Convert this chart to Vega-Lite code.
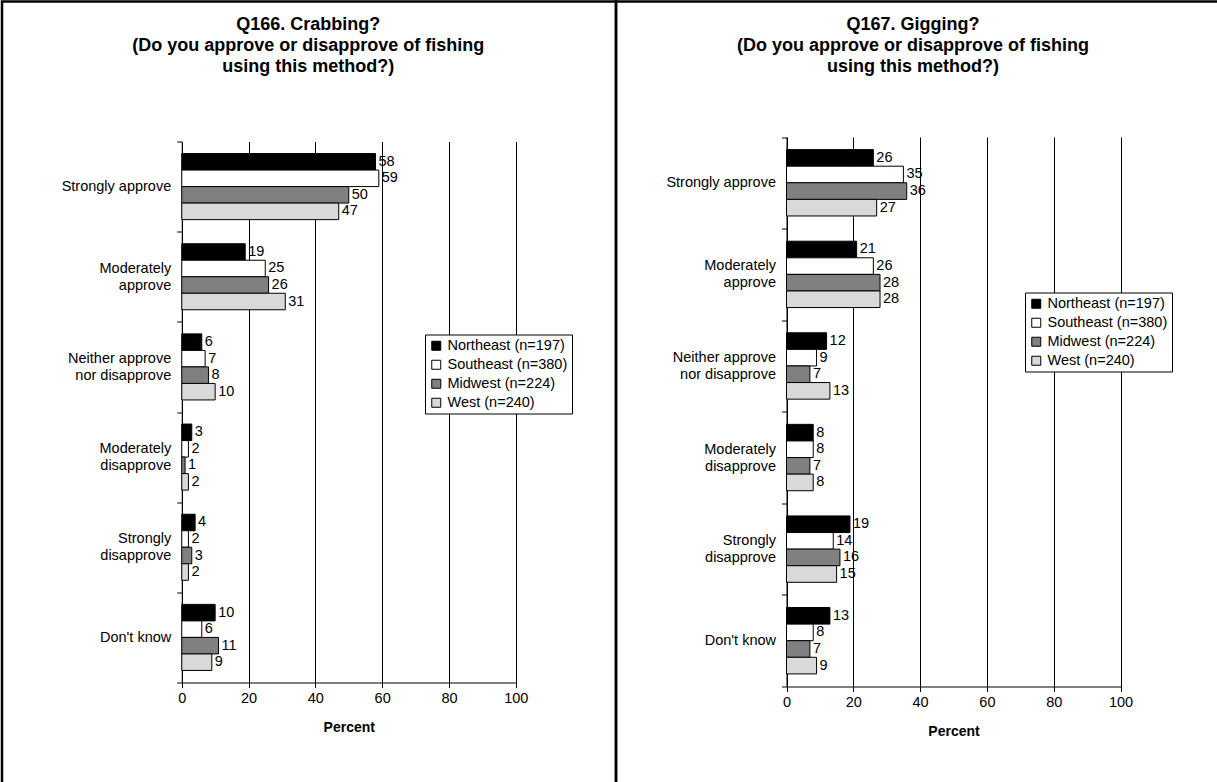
{
  "$schema": "https://vega.github.io/schema/vega-lite/v6.json",
  "padding": {"left": 0, "top": -8.5, "right": 0, "bottom": 0},
  "background": "white",
  "spacing": 0,
  "bounds": "flush",
  "datasets": {
    "survey": [
      {"q": "Q166", "response": "Strongly approve", "region": "Northeast (n=197)", "value": 58},
      {"q": "Q166", "response": "Strongly approve", "region": "Southeast (n=380)", "value": 59},
      {"q": "Q166", "response": "Strongly approve", "region": "Midwest (n=224)", "value": 50},
      {"q": "Q166", "response": "Strongly approve", "region": "West (n=240)", "value": 47},
      {"q": "Q166", "response": "Moderately approve", "region": "Northeast (n=197)", "value": 19},
      {"q": "Q166", "response": "Moderately approve", "region": "Southeast (n=380)", "value": 25},
      {"q": "Q166", "response": "Moderately approve", "region": "Midwest (n=224)", "value": 26},
      {"q": "Q166", "response": "Moderately approve", "region": "West (n=240)", "value": 31},
      {"q": "Q166", "response": "Neither approve nor disapprove", "region": "Northeast (n=197)", "value": 6},
      {"q": "Q166", "response": "Neither approve nor disapprove", "region": "Southeast (n=380)", "value": 7},
      {"q": "Q166", "response": "Neither approve nor disapprove", "region": "Midwest (n=224)", "value": 8},
      {"q": "Q166", "response": "Neither approve nor disapprove", "region": "West (n=240)", "value": 10},
      {"q": "Q166", "response": "Moderately disapprove", "region": "Northeast (n=197)", "value": 3},
      {"q": "Q166", "response": "Moderately disapprove", "region": "Southeast (n=380)", "value": 2},
      {"q": "Q166", "response": "Moderately disapprove", "region": "Midwest (n=224)", "value": 1},
      {"q": "Q166", "response": "Moderately disapprove", "region": "West (n=240)", "value": 2},
      {"q": "Q166", "response": "Strongly disapprove", "region": "Northeast (n=197)", "value": 4},
      {"q": "Q166", "response": "Strongly disapprove", "region": "Southeast (n=380)", "value": 2},
      {"q": "Q166", "response": "Strongly disapprove", "region": "Midwest (n=224)", "value": 3},
      {"q": "Q166", "response": "Strongly disapprove", "region": "West (n=240)", "value": 2},
      {"q": "Q166", "response": "Don't know", "region": "Northeast (n=197)", "value": 10},
      {"q": "Q166", "response": "Don't know", "region": "Southeast (n=380)", "value": 6},
      {"q": "Q166", "response": "Don't know", "region": "Midwest (n=224)", "value": 11},
      {"q": "Q166", "response": "Don't know", "region": "West (n=240)", "value": 9},
      {"q": "Q167", "response": "Strongly approve", "region": "Northeast (n=197)", "value": 26},
      {"q": "Q167", "response": "Strongly approve", "region": "Southeast (n=380)", "value": 35},
      {"q": "Q167", "response": "Strongly approve", "region": "Midwest (n=224)", "value": 36},
      {"q": "Q167", "response": "Strongly approve", "region": "West (n=240)", "value": 27},
      {"q": "Q167", "response": "Moderately approve", "region": "Northeast (n=197)", "value": 21},
      {"q": "Q167", "response": "Moderately approve", "region": "Southeast (n=380)", "value": 26},
      {"q": "Q167", "response": "Moderately approve", "region": "Midwest (n=224)", "value": 28},
      {"q": "Q167", "response": "Moderately approve", "region": "West (n=240)", "value": 28},
      {"q": "Q167", "response": "Neither approve nor disapprove", "region": "Northeast (n=197)", "value": 12},
      {"q": "Q167", "response": "Neither approve nor disapprove", "region": "Southeast (n=380)", "value": 9},
      {"q": "Q167", "response": "Neither approve nor disapprove", "region": "Midwest (n=224)", "value": 7},
      {"q": "Q167", "response": "Neither approve nor disapprove", "region": "West (n=240)", "value": 13},
      {"q": "Q167", "response": "Moderately disapprove", "region": "Northeast (n=197)", "value": 8},
      {"q": "Q167", "response": "Moderately disapprove", "region": "Southeast (n=380)", "value": 8},
      {"q": "Q167", "response": "Moderately disapprove", "region": "Midwest (n=224)", "value": 7},
      {"q": "Q167", "response": "Moderately disapprove", "region": "West (n=240)", "value": 8},
      {"q": "Q167", "response": "Strongly disapprove", "region": "Northeast (n=197)", "value": 19},
      {"q": "Q167", "response": "Strongly disapprove", "region": "Southeast (n=380)", "value": 14},
      {"q": "Q167", "response": "Strongly disapprove", "region": "Midwest (n=224)", "value": 16},
      {"q": "Q167", "response": "Strongly disapprove", "region": "West (n=240)", "value": 15},
      {"q": "Q167", "response": "Don't know", "region": "Northeast (n=197)", "value": 13},
      {"q": "Q167", "response": "Don't know", "region": "Southeast (n=380)", "value": 8},
      {"q": "Q167", "response": "Don't know", "region": "Midwest (n=224)", "value": 7},
      {"q": "Q167", "response": "Don't know", "region": "West (n=240)", "value": 9}
    ]
  },
  "hconcat": [
    {
      "width": 614,
      "height": 821,
      "data": {"name": "survey"},
      "transform": [{"filter": "datum.q == 'Q166'"}],
      "encoding": {
        "y": {
          "field": "response", "type": "nominal",
          "sort": ["Strongly approve", "Moderately approve", "Neither approve nor disapprove", "Moderately disapprove", "Strongly disapprove", "Don't know"],
          "scale": {"range": [140, 681], "paddingInner": 0, "paddingOuter": 0},
          "axis": {
            "title": ["Q166. Crabbing?", "(Do you approve or disapprove of fishing", "using this method?)"],
            "titleX": 126, "titleY": 14,
            "offset": -179.75, "tickBand": "extent", "grid": false,
            "labelOffset": {"condition": {"test": "datum.value == 'Strongly approve' || datum.value == \"Don't know\"", "value": 0}, "value": -8.5},
            "labelExpr": "datum.label == 'Moderately approve' ? ['Moderately', 'approve\u00a0\u00a0'] : datum.label == 'Neither approve nor disapprove' ? ['Neither approve', 'nor disapprove\u00a0'] : datum.label == 'Moderately disapprove' ? ['Moderately', 'disapprove'] : datum.label == 'Strongly disapprove' ? ['Strongly\u00a0\u00a0', 'disapprove'] : datum.label"
          }
        },
        "yOffset": {
          "field": "region", "type": "nominal",
          "sort": ["Northeast (n=197)", "Southeast (n=380)", "Midwest (n=224)", "West (n=240)"],
          "scale": {"paddingInner": 0, "paddingOuter": 0.73}
        },
        "x": {
          "field": "value", "type": "quantitative",
          "scale": {"domain": [0, 100], "range": [179.75, 513.75], "nice": false},
          "axis": {"title": "Percent", "offset": -140, "values": [0, 20, 40, 60, 80, 100], "grid": true, "labelFlush": false}
        }
      },
      "layer": [
        {
          "mark": {"type": "bar", "stroke": "black", "strokeWidth": 1},
          "encoding": {
            "fill": {
              "field": "region", "type": "nominal",
              "scale": {"domain": ["Northeast (n=197)", "Southeast (n=380)", "Midwest (n=224)", "West (n=240)"], "range": ["#000000", "#ffffff", "#808080", "#d9d9d9"]},
              "legend": {"orient": "none", "legendX": 423, "legendY": 333, "title": null}
            }
          }
        },
        {
          "mark": {"type": "text", "align": "left", "baseline": "middle", "dx": 3, "fontSize": 14.5, "font": "Liberation Sans", "color": "black"},
          "encoding": {"text": {"field": "value", "type": "quantitative"}}
        }
      ]
    },
    {
      "width": 610,
      "height": 820.5,
      "data": {"name": "survey"},
      "transform": [{"filter": "datum.q == 'Q167'"}],
      "encoding": {
        "y": {
          "field": "response", "type": "nominal",
          "sort": ["Strongly approve", "Moderately approve", "Neither approve nor disapprove", "Moderately disapprove", "Strongly disapprove", "Don't know"],
          "scale": {"range": [135.5, 685], "paddingInner": 0, "paddingOuter": 0},
          "axis": {
            "title": ["Q167. Gigging?", "(Do you approve or disapprove of fishing", "using this method?)"],
            "titleX": 126, "titleY": 14,
            "offset": -170.5, "tickBand": "extent", "grid": false,
            "labelOffset": {"condition": {"test": "datum.value == 'Strongly approve' || datum.value == \"Don't know\"", "value": 0}, "value": -8.5},
            "labelExpr": "datum.label == 'Moderately approve' ? ['Moderately', 'approve\u00a0\u00a0'] : datum.label == 'Neither approve nor disapprove' ? ['Neither approve', 'nor disapprove\u00a0'] : datum.label == 'Moderately disapprove' ? ['Moderately', 'disapprove'] : datum.label == 'Strongly disapprove' ? ['Strongly\u00a0\u00a0', 'disapprove'] : datum.label"
          }
        },
        "yOffset": {
          "field": "region", "type": "nominal",
          "sort": ["Northeast (n=197)", "Southeast (n=380)", "Midwest (n=224)", "West (n=240)"],
          "scale": {"paddingInner": 0, "paddingOuter": 0.76}
        },
        "x": {
          "field": "value", "type": "quantitative",
          "scale": {"domain": [0, 100], "range": [170.5, 504.5], "nice": false},
          "axis": {"title": "Percent", "offset": -135.5, "values": [0, 20, 40, 60, 80, 100], "grid": true, "labelFlush": false}
        }
      },
      "layer": [
        {
          "mark": {"type": "bar", "stroke": "black", "strokeWidth": 1},
          "encoding": {
            "fill": {
              "field": "region", "type": "nominal",
              "scale": {"domain": ["Northeast (n=197)", "Southeast (n=380)", "Midwest (n=224)", "West (n=240)"], "range": ["#000000", "#ffffff", "#808080", "#d9d9d9"]},
              "legend": {"orient": "none", "legendX": 409, "legendY": 291, "title": null}
            }
          }
        },
        {
          "mark": {"type": "text", "align": "left", "baseline": "middle", "dx": 3, "fontSize": 14.5, "font": "Liberation Sans", "color": "black"},
          "encoding": {"text": {"field": "value", "type": "quantitative"}}
        }
      ]
    }
  ],
  "resolve": {
    "scale": {"fill": "independent", "x": "independent", "y": "independent", "yOffset": "independent"},
    "legend": {"fill": "independent"}
  },
  "config": {
    "font": "Liberation Sans",
    "view": {"stroke": "black", "strokeWidth": 2.5},
    "axis": {
      "domainColor": "black", "domainWidth": 1, "tickColor": "black", "tickWidth": 1, "tickSize": 5,
      "gridColor": "black", "gridOpacity": 1, "gridWidth": 1,
      "labelColor": "black", "titleColor": "black",
      "labelFont": "Liberation Sans", "titleFont": "Liberation Sans",
      "labelFontSize": 14.5, "titleFontSize": 14, "titleFontWeight": "bold"
    },
    "axisY": {
      "labelPadding": 6, "labelLineHeight": 17, "labelBaseline": "middle",
      "titleAngle": 0, "titleAlign": "center", "titleBaseline": "top",
      "titleFontSize": 18, "titleLineHeight": 21
    },
    "axisX": {"labelPadding": 4, "titlePadding": 15},
    "legend": {
      "strokeColor": "black", "fillColor": "white", "padding": 4,
      "symbolType": "square", "symbolSize": 81, "symbolStrokeColor": "black", "symbolStrokeWidth": 1,
      "symbolOpacity": 1, "labelFontSize": 14.5, "labelFont": "Liberation Sans", "labelColor": "black",
      "labelOffset": 4, "rowPadding": 4, "cornerRadius": 0, "labelLimit": 300
    }
  }
}
